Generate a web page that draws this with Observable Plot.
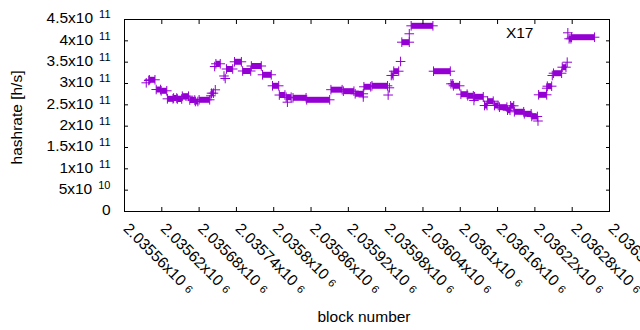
<!DOCTYPE html>
<html><head><meta charset="utf-8">
<script src="https://cdn.jsdelivr.net/npm/d3@7"></script>
<script src="https://cdn.jsdelivr.net/npm/@observablehq/plot@0.6"></script>
<style>
body{margin:0;background:#fff}
#chart svg{font-family:"Liberation Sans",Arial,sans-serif;overflow:visible}
</style>
</head><body><div id="chart"></div>
<script>
// Runs of consecutive blocks sharing the same hashrate estimate
const blockStart = [2035595,2035599,2035600,2035611,2035619,2035629,2035639,2035645,2035653,2035665,2035674,2035680,2035699,2035700,2035705,2035706,2035707,2035720,2035722,2035724,2035737,2035750,2035764,2035782,2035798,2035809,2035820,2035822,2035831,2035853,2035892,2035912,2035931,2035944,2035945,2035958,2035984,2035986,2035989,2035993,2036004,2036006,2036018,2036021,2036057,2036085,2036089,2036101,2036112,2036122,2036123,2036139,2036144,2036155,2036163,2036176,2036181,2036187,2036203,2036215,2036225,2036226,2036239,2036240,2036248,2036250,2036264,2036272,2036273,2036275,2036279];
const blockEnd   = [2035595,2035599,2035609,2035618,2035628,2035638,2035644,2035652,2035663,2035673,2035678,2035697,2035699,2035703,2035705,2035706,2035714,2035720,2035722,2035734,2035748,2035763,2035780,2035796,2035808,2035818,2035828,2035822,2035852,2035890,2035910,2035929,2035944,2035944,2035956,2035983,2035984,2035986,2035992,2036001,2036004,2036018,2036018,2036056,2036084,2036088,2036099,2036111,2036121,2036122,2036137,2036143,2036153,2036161,2036175,2036180,2036186,2036202,2036214,2036224,2036225,2036239,2036239,2036247,2036248,2036263,2036270,2036272,2036273,2036278,2036316];
const hashrate   = [301.6e9,307.0e9,308.7e9,285.9e9,282.9e9,264.1e9,266.0e9,263.7e9,270.2e9,261.3e9,257.8e9,261.8e9,271.2e9,277.3e9,339.8e9,285.2e9,346.2e9,317.6e9,311.7e9,334.0e9,350.9e9,329.3e9,341.0e9,320.4e9,294.6e9,273.0e9,267.9e9,256.2e9,266.5e9,261.8e9,285.5e9,282.0e9,275.9e9,268.4e9,292.3e9,294.6e9,273.0e9,289.9e9,318.8e9,328.8e9,351.6e9,396.8e9,416.5e9,435.2e9,328.8e9,299.3e9,294.6e9,274.9e9,271.2e9,260.2e9,268.8e9,248.4e9,258.5e9,248.4e9,244.5e9,237.4e9,247.7e9,233.7e9,229.0e9,222.7e9,212.1e9,273.5e9,289.0e9,293.7e9,318.8e9,324.1e9,338.2e9,349.9e9,418.8e9,404.8e9,408.5e9];

const xTicks = [2035560,2035620,2035680,2035740,2035800,2035860,2035920,2035980,2036040,2036100,2036160,2036220,2036280,2036340];
const xTickLabels = ["2.03556x10~6","2.03562x10~6","2.03568x10~6","2.03574x10~6","2.0358x10~6","2.03586x10~6","2.03592x10~6","2.03598x10~6","2.03604x10~6","2.0361x10~6","2.03616x10~6","2.03622x10~6","2.03628x10~6","2.03634x10~6"];
const yTicks = [0,5e10,1e11,1.5e11,2e11,2.5e11,3e11,3.5e11,4e11,4.5e11];
const yTickLabels = ["0","5x10^10","1x10^11","1.5x10^11","2x10^11","2.5x10^11","3x10^11","3.5x10^11","4x10^11","4.5x10^11"];
const seriesTitle = "X17";
const xTitle = "block number";
const yTitle = "hashrate [h/s]";

const color = "#9400d3";
const runs = blockStart.map((s, i) => ({start: s, end: blockEnd[i], v: hashrate[i]}));
const ends = runs.flatMap(r => r.start === r.end ? [{x: r.start, v: r.v}] : [{x: r.start, v: r.v}, {x: r.end, v: r.v}]);
const fs = 15.5;

const chart = Plot.plot({
  width: 640, height: 330,
  marginLeft: 124, marginRight: 31, marginTop: 19, marginBottom: 119,
  x: {domain: [2035560, 2036340], axis: null},
  y: {domain: [0, 4.5e11], axis: null},
  style: {fontSize: fs + "px", fontFamily: "Liberation Sans, Arial, sans-serif", background: "white"},
  marks: [
    Plot.link(runs.filter(r => r.end > r.start), {x1: "start", x2: "end", y1: "v", y2: "v", stroke: color, strokeWidth: 6, strokeLinecap: "butt"}),
    Plot.dot(ends, {x: "x", y: "v", symbol: "plus", r: 3.2, stroke: color, strokeWidth: 1}),
    Plot.axisX(xTicks, {anchor: "bottom", tickSize: -4, tickFormat: () => "", label: null, stroke: "black"}),
    Plot.axisX(xTicks, {anchor: "top", tickSize: -4, tickFormat: () => "", label: null, stroke: "black"}),
    Plot.axisY(yTicks, {anchor: "left", tickSize: -4, tickFormat: () => "", label: null, stroke: "black"}),
    Plot.axisY(yTicks, {anchor: "right", tickSize: -4, tickFormat: () => "", label: null, stroke: "black"}),
    Plot.frame({stroke: "black", strokeWidth: 1}),
    Plot.text(xTicks, {x: d => d, text: (d, i) => xTickLabels[i], frameAnchor: "bottom", rotate: 45, textAnchor: "start", lineAnchor: "bottom", dx: -2, dy: 18, fill: "black", fontSize: fs}),
    Plot.text(yTicks, {y: d => d, text: (d, i) => yTickLabels[i], frameAnchor: "left", textAnchor: "end", lineAnchor: "middle", dx: -14, dy: -1, fill: "black", fontSize: fs}),
    Plot.text([yTitle], {text: d => d, frameAnchor: "left", rotate: -90, textAnchor: "middle", lineAnchor: "middle", dx: -107, dy: 2, fill: "black", fontSize: fs}),
    Plot.text([xTitle], {text: d => d, frameAnchor: "bottom", textAnchor: "middle", lineAnchor: "middle", dx: -3, dy: 106, fill: "black", fontSize: fs}),
    Plot.text([seriesTitle], {text: d => d, frameAnchor: "top-right", textAnchor: "end", lineAnchor: "bottom", dx: -76, dy: 18, fill: "black", fontSize: fs})
  ]
});
document.getElementById("chart").append(chart);

// superscript exponents as real tspans
const NS = "http://www.w3.org/2000/svg";
chart.querySelectorAll("text").forEach(t => {
  const s = t.textContent;
  let sep = s.includes("^") ? "^" : s.includes("~") ? "~" : null;
  if (!sep) return;
  const [m, e] = s.split(sep);
  t.textContent = "";
  const a = document.createElementNS(NS, "tspan"); a.textContent = m;
  const b = document.createElementNS(NS, "tspan"); b.textContent = e;
  b.setAttribute("font-size", "11px");
  if (sep === "^") { b.setAttribute("dx", "6"); b.setAttribute("dy", "-5"); }
  else { b.setAttribute("dx", "5"); b.setAttribute("dy", "-1"); }
  t.append(a, b);
});
</script>
</body></html>
